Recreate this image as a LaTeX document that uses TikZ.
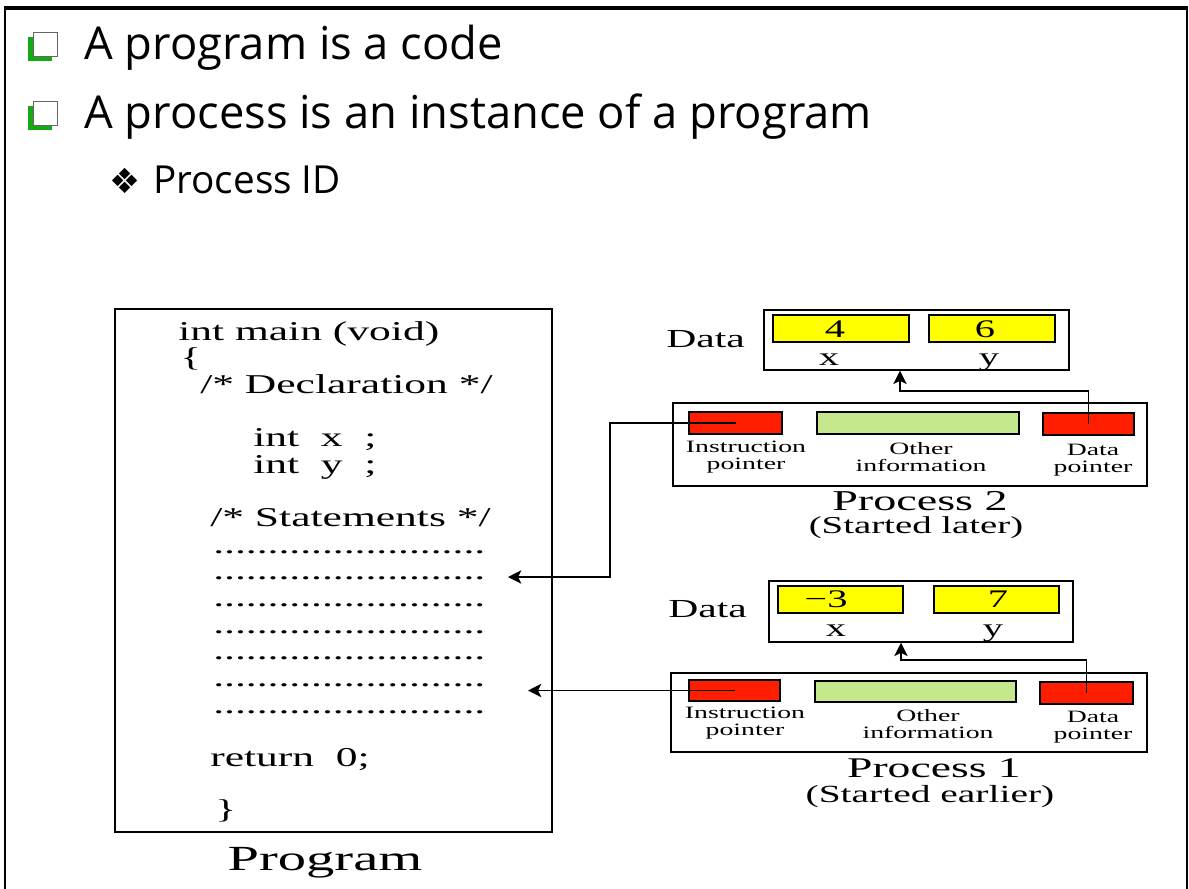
\documentclass[tikz,border=0pt]{standalone}
\usepackage{fontspec}
\setmainfont{Open Sans}
\newfontfamily\figfont[FakeStretch=1.6]{Liberation Serif}
\newfontfamily\symfont{DejaVu Sans}
\usetikzlibrary{arrows.meta,fit,shadows}

\definecolor{ptrred}{RGB}{255,30,0}
\definecolor{infogreen}{RGB}{198,232,140}
\definecolor{valyellow}{RGB}{255,255,0}
\definecolor{chkgreen}{RGB}{20,170,20}

\tikzset{
  slide/.style={anchor=base west, inner sep=0, font=\fontsize{34}{40}\selectfont},
  subpt/.style={anchor=base west, inner sep=0, font=\fontsize{29}{34}\selectfont},
  chk/.style={draw=black!60, fill=white, line width=0.6pt, minimum size=18pt, inner sep=0,
    drop shadow={shadow xshift=-3.5pt, shadow yshift=-3.5pt, fill=chkgreen, opacity=1}},
  code/.style={anchor=base west, inner sep=0, font=\figfont\fontsize{20.4}{24}\selectfont},
  cell/.style={draw, line width=0.8pt, inner sep=0},
  frame/.style={draw, line width=1.1pt, inner sep=0},
  val/.style={inner sep=0, font=\figfont\fontsize{19}{22}\selectfont},
  lbl/.style={inner sep=0, align=center, font=\figfont\fontsize{13}{12.75}\selectfont},
  ptr/.style={line width=1.4pt, -{Stealth[length=10pt,width=10pt,inset=2.5pt]}},
}

\begin{document}
\begin{tikzpicture}[x=0.75pt,y=-0.75pt]
\useasboundingbox (0,0) rectangle (1189,889);
% slide frame
\draw[line width=1.5pt] (5,889) -- (5,8) (1187,8) -- (1187,889);
\draw[line width=2.4pt] (4,8) -- (1188,8);

% bullet points
\node[chk] (chkA) at (45,44) {};
\node[slide] (ptA) at (84,59) {A program is a code};
\node[chk] (chkB) at (45,113) {};
\node[slide] (ptB) at (84,128) {A process is an instance of a program};
\node[anchor=base west, inner sep=0, font=\symfont\fontsize{26}{28}\selectfont] (dia) at (109,193) {❖};
\node[subpt] (ptC) at (153,193) {Process ID};

% program
\node[fit={(115,309) (552,832)}, inner sep=0, draw, line width=1.5pt] (prog) {};
\node[code] (c1) at (178,340) {int main (void)};
\node[code] (c2) at (180,366) {\{};
\node[code] (c3) at (200,393) {/* Declaration */};
\node[code] (c4) at (253,446) {int\ \ x\ \ ;};
\node[code] (c5) at (253,473) {int\ \ y\ \ ;};
\node[code] (c6) at (210,526) {/* Statements */};
\foreach \i in {0,...,6}
  \node[code] (dots\i) at (213,553+26.67*\i) {.........................};
\node[code] (c7) at (210,766) {return\ \ 0;};
\node[code] (c8) at (215,818) {\}};
\node[anchor=base, inner sep=0, font=\figfont\fontsize{26.5}{30}\selectfont] (progLbl) at (325,870) {Program};

% process 2
\node[anchor=base west, inner sep=0, font=\figfont\fontsize{19.5}{22}\selectfont] (dlbl2) at (666,347) {Data};
\node[fit={(764,310) (1069,370)}, frame] (data2) {};
\node[fit={(773,315) (909,342)}, cell, fill=valyellow] (xbox2) {};
\node[fit={(929,315) (1055,342)}, cell, fill=valyellow] (ybox2) {};
\node[val] (xv2) at (835,329) {4};
\node[val] (yv2) at (985,329) {6};
\node[val, anchor=base] (xn2) at (829,365) {x};
\node[val, anchor=base] (yn2) at (989,365) {y};
\node[fit={(673,403) (1147,486)}, frame] (proc2) {};
\node[fit={(689,412) (782,434)}, cell, fill=ptrred] (ip2) {};
\node[fit={(817,412) (1019,434)}, cell, fill=infogreen] (oi2) {};
\node[fit={(1043,413) (1134,435)}, cell, fill=ptrred] (dp2) {};
\node[lbl] (ipl2) at (746,457) {Instruction\\pointer};
\node[lbl] (oil2) at (921,457) {Other\\information};
\node[lbl] (dpl2) at (1093,460) {Data\\pointer};
\node[anchor=base, inner sep=0, font=\figfont\fontsize{21.6}{24}\selectfont] (pn2) at (920,510) {Process 2};
\node[anchor=base, inner sep=0, font=\figfont\fontsize{18.2}{22}\selectfont] (ps2) at (916,533) {(Started later)};

% process 1
\node[anchor=base west, inner sep=0, font=\figfont\fontsize{19.5}{22}\selectfont] (dlbl1) at (668,617) {Data};
\node[fit={(769,581) (1073,642)}, frame] (data1) {};
\node[fit={(778,586) (903,613)}, cell, fill=valyellow] (xbox1) {};
\node[fit={(934,586) (1059,613)}, cell, fill=valyellow] (ybox1) {};
\node[val] (xv1) at (826,599) {−3};
\node[val] (yv1) at (998,599) {7};
\node[val, anchor=base] (xn1) at (836,636) {x};
\node[val, anchor=base] (yn1) at (993,636) {y};
\node[fit={(671,673) (1147,752)}, frame] (proc1) {};
\node[fit={(689,680) (780,701)}, cell, fill=ptrred] (ip1) {};
\node[fit={(815,681) (1016,702)}, cell, fill=infogreen] (oi1) {};
\node[fit={(1040,682) (1133,704)}, cell, fill=ptrred] (dp1) {};
\node[lbl] (ipl1) at (745,723) {Instruction\\pointer};
\node[lbl] (oil1) at (928,724) {Other\\information};
\node[lbl] (dpl1) at (1093,727) {Data\\pointer};
\node[anchor=base, inner sep=0, font=\figfont\fontsize{21.4}{24}\selectfont] (pn1) at (934,777) {Process 1};
\node[anchor=base, inner sep=0, font=\figfont\fontsize{18.5}{22}\selectfont] (ps1) at (930,802) {(Started earlier)};

% pointers
\coordinate (bend2) at (610,577);
\coordinate (stmt2) at (508,577);
\draw[ptr] (ip2.center) -| (bend2) -- (stmt2);
\coordinate (stmt1) at (528,690.5);
\draw[ptr] (ip1.center) -- (stmt1);
\coordinate (dj2) at (900,391);
\draw[ptr] (dp2.center) |- (dj2) -- (dj2 |- data2.south);
\coordinate (dj1) at (901,660);
\draw[ptr] (dp1.center) |- (dj1) -- (dj1 |- data1.south);
\end{tikzpicture}
\end{document}
